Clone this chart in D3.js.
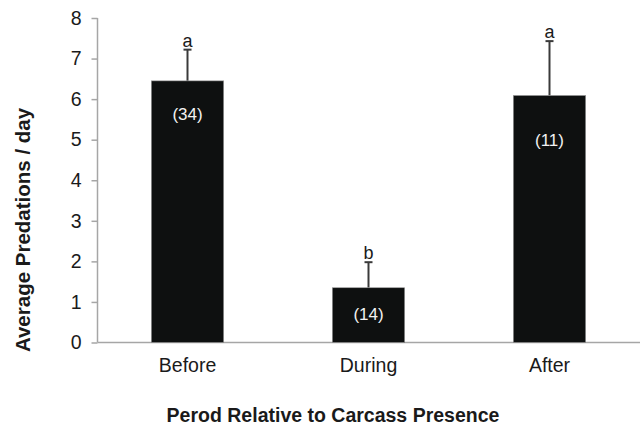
<!DOCTYPE html>
<html>
<head>
<meta charset="utf-8">
<script src="https://cdn.jsdelivr.net/npm/d3@7"></script>
<style>
  html, body { margin: 0; padding: 0; background: #fff; }
  svg { display: block; }
  text { font-family: "Liberation Sans", Arial, sans-serif; }
</style>
</head>
<body>
<script>
const categories = ["Before", "During", "After"];
const means = [6.45, 1.35, 6.09];
const errorTops = [7.22, 1.98, 7.43];
const sampleSizes = ["(34)", "(14)", "(11)"];
const sampleLabelPos = [5.63, 0.70, 4.99];
const groupLetters = ["a", "b", "a"];
const yTicks = [0, 1, 2, 3, 4, 5, 6, 7, 8];
const yTitle = "Average Predations / day";
const xTitle = "Perod Relative to Carcass Presence";

const W = 640, H = 427;
const svg = d3.select("body").append("svg").attr("width", W).attr("height", H);

const x = d3.scaleBand().domain(categories).range([97, 640]).paddingInner(0.6).paddingOuter(0.3);
const y = d3.scaleLinear().domain([0, 8]).range([342.5, 18]);

const axisColor = "#a6a6a6";
const textColor = "#1a1a1a";
const ff = "'Liberation Sans', Arial, sans-serif";

// Y axis
const yAxis = svg.append("g").attr("transform", "translate(97.5,0)")
  .call(d3.axisLeft(y).tickValues(yTicks).tickSize(6).tickPadding(10).tickFormat(d3.format("d")));
yAxis.select(".domain").attr("stroke", axisColor).attr("stroke-width", 1.5).attr("d", `M0,${y(8)}V${y(0)}`);
yAxis.selectAll(".tick line").attr("stroke", axisColor).attr("stroke-width", 1.5);
yAxis.selectAll(".tick text").attr("fill", textColor).attr("font-size", 19.5).style("font-family", ff);

// X axis
const xAxis = svg.append("g").attr("transform", `translate(0,${y(0)})`)
  .call(d3.axisBottom(x).tickSize(0).tickPadding(16));
xAxis.select(".domain").attr("stroke", axisColor).attr("stroke-width", 1.5).attr("d", `M97.5,0H640`);
xAxis.selectAll(".tick text").attr("fill", textColor).attr("font-size", 19.5).style("font-family", ff);

// Error bars (drawn behind bars)
const eb = svg.append("g");
categories.forEach((c, i) => {
  const cx = x(c) + x.bandwidth() / 2;
  eb.append("line").attr("x1", cx).attr("x2", cx).attr("y1", y(means[i])).attr("y2", y(errorTops[i]))
    .attr("stroke", "#3a3a3a").attr("stroke-width", 2);
  eb.append("line").attr("x1", cx - 4).attr("x2", cx + 4).attr("y1", y(errorTops[i])).attr("y2", y(errorTops[i]))
    .attr("stroke", "#3a3a3a").attr("stroke-width", 2);
});

// Bars
svg.append("g").selectAll("rect").data(categories).join("rect")
  .attr("x", d => x(d))
  .attr("width", x.bandwidth())
  .attr("y", (d, i) => y(means[i]))
  .attr("height", (d, i) => y(0) - y(means[i]))
  .attr("fill", "#0e1010")
  .attr("stroke", "#9a9a9a").attr("stroke-width", 0.6);

// Sample sizes
svg.append("g").selectAll("text").data(categories).join("text")
  .attr("x", d => x(d) + x.bandwidth() / 2)
  .attr("y", (d, i) => y(sampleLabelPos[i]))
  .attr("dy", "0.35em")
  .attr("text-anchor", "middle")
  .attr("fill", "#f2f2f2")
  .attr("font-size", 17)
  .text((d, i) => sampleSizes[i]);

// Group letters
svg.append("g").selectAll("text").data(categories).join("text")
  .attr("x", d => x(d) + x.bandwidth() / 2)
  .attr("y", (d, i) => y(errorTops[i]) - 3)
  .attr("text-anchor", "middle")
  .attr("fill", textColor)
  .attr("font-size", 18)
  .text((d, i) => groupLetters[i]);

// Titles
svg.append("text")
  .attr("transform", "translate(30,230) rotate(-90)")
  .attr("text-anchor", "middle")
  .attr("font-weight", "bold")
  .attr("font-size", 20.5)
  .attr("fill", textColor)
  .text(yTitle);

svg.append("text")
  .attr("x", 333)
  .attr("y", 422)
  .attr("text-anchor", "middle")
  .attr("font-weight", "bold")
  .attr("font-size", 19.5)
  .attr("fill", textColor)
  .text(xTitle);
</script>
</body>
</html>
